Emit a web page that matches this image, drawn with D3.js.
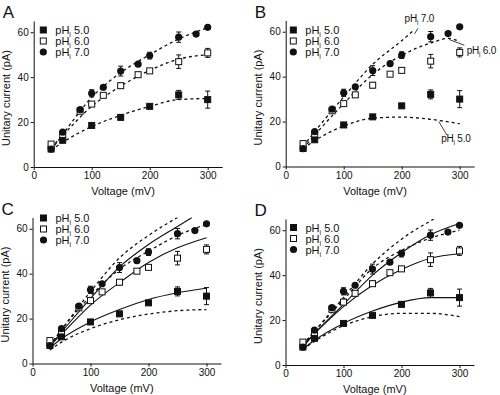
<!DOCTYPE html>
<html>
<head>
<meta charset="utf-8">
<script src="https://cdn.jsdelivr.net/npm/d3@7"></script>
<style>
  body { margin: 0; background: #fff; }
  svg text { font-family: "Liberation Sans", Arial, sans-serif; fill: #111; }
</style>
</head>
<body>
<div id="chart"></div>
<script>
// Measured points (same data in every panel)
const volt5 = [30, 50, 100, 150, 200, 250, 300];
const ph5 = [8, 11.9, 18.5, 22.1, 27, 32.1, 30];
const ph5Err = [0, 0, 0, 0, 0, 2, 3.8];

const volt6 = [30, 50, 80, 100, 120, 150, 180, 200, 250, 300];
const ph6 = [10.2, 14.5, 24.8, 28, 31.9, 36.2, 41.1, 42.8, 46.9, 50.8];
const ph6Err = [0, 0, 0, 0, 0, 1.2, 0, 0, 3, 2];

const volt7 = [30, 50, 80, 100, 120, 150, 180, 200, 250, 280, 300];
const ph7 = [8, 15.5, 25.5, 32.8, 35.5, 42.7, 45.8, 49.6, 57.8, 59.2, 62.2];
const ph7Err = [0, 0, 0, 1.6, 0, 2.2, 0, 1.5, 2.3, 0, 0];

// fitted curves
const fitV = [30, 50, 100, 150, 200, 250, 300];
const aFit5 = [7.5, 11, 18, 23, 27, 30, 30.5];
const aFit6 = [8.5, 14, 27, 36, 43, 48, 50];
const aFit7 = [7.5, 14.5, 31, 42, 50, 57, 62];

const bFit5V = [30, 50, 100, 150, 200, 250, 300];
const bFit5 = [8, 11.5, 18, 21.5, 22, 21, 19];
const bFit6V = [30, 50, 100, 150, 200, 250, 280, 300];
const bFit6 = [8, 14, 28, 41, 49.5, 55, 57, 55.6];
const bFit7V = [30, 50, 100, 150, 200, 222];
const bFit7 = [9, 15.5, 31, 45.5, 56, 61];

const cSolidTopV = [30, 50, 100, 150, 200, 250, 275];
const cSolidTop = [8, 14, 29, 43, 53, 61, 65];
const cDashTopV = [30, 50, 100, 150, 200, 250];
const cDashTop = [8, 15, 32, 47, 57, 65];
const cDash7 = [8, 15, 30, 42, 50, 57, 62];
const cSolid6 = [8, 13, 26, 36, 45, 51.5, 56];
const cSolid5 = [7, 11, 18.5, 24, 28.5, 31.5, 33.5];
const cDash5 = [6, 9.5, 15.5, 19.5, 22, 23.5, 24];

const dDashTopV = [30, 50, 100, 150, 200, 256];
const dDashTop = [9, 15, 30, 45, 56, 65];
const dSolid7 = [8, 14, 27, 40, 50, 58, 63];
const dDash7 = [9, 15, 29, 43, 51, 56.5, 60];
const dSolid6 = [9, 14, 26, 35.5, 42.5, 47.5, 49.5];
const dSolid5 = [7, 11, 18.5, 24, 28, 30, 30];
const dDash5 = [7, 10.5, 17.5, 21.5, 23, 23, 21.5];

const xTicks = [0, 100, 200, 300];
const yTicks = [0, 20, 40, 60];
const legendLabels = ["5.0", "6.0", "7.0"];

const W = 500, H = 395;
const pw = 188.5, ph = 146;

const svg = d3.select("#chart").append("svg")
    .attr("width", W).attr("height", H);

const x = d3.scaleLinear().domain([0, 325]).range([0, pw]);
const y = d3.scaleLinear().domain([0, 65]).range([ph, 0]);

function toPts(vs, is) { return vs.map((v, k) => [v, is[k]]); }

const line = d3.line().x(d => x(d[0])).y(d => y(d[1])).curve(d3.curveMonotoneX);

function drawPanel(cfg) {
    const g = svg.append("g").attr("transform", `translate(${cfg.x0},${cfg.y0 - ph})`);

    svg.append("text")
        .attr("x", cfg.x0 - 31).attr("y", cfg.y0 - ph - 3)
        .style("font-size", "17px")
        .text(cfg.letter);

    g.append("clipPath").attr("id", "clip" + cfg.letter)
      .append("rect").attr("x", 0).attr("y", 0).attr("width", pw).attr("height", ph);

    // axes
    const ax = g.append("g").attr("transform", `translate(0,${ph})`)
        .call(d3.axisBottom(x).tickValues(xTicks).tickSize(3).tickSizeOuter(0).tickPadding(2));
    const ay = g.append("g")
        .call(d3.axisLeft(y).tickValues(yTicks).tickSize(3).tickSizeOuter(0).tickPadding(2));
    [ax, ay].forEach(a => {
        a.selectAll("text").style("font-size", "10px").style("font-family", "Liberation Sans, Arial, sans-serif").attr("fill", "#111");
        a.selectAll("path, line").attr("stroke", "#111").attr("stroke-width", 1);
    });

    g.append("text")
        .attr("x", x(154)).attr("y", ph + 28)
        .attr("text-anchor", "middle")
        .style("font-size", "11px")
        .text("Voltage (mV)");
    g.append("text")
        .attr("transform", `translate(-24,${ph / 2 + 4}) rotate(-90)`)
        .attr("text-anchor", "middle")
        .style("font-size", "11px")
        .text("Unitary current (pA)");

    // fitted curves
    const curves = g.append("g").attr("clip-path", `url(#clip${cfg.letter})`);
    cfg.curves.forEach(c => {
        curves.append("path")
            .attr("d", line(c.pts))
            .attr("fill", "none")
            .attr("stroke", "#111")
            .attr("stroke-width", c.dash ? 1.3 : 1.1)
            .attr("stroke-dasharray", c.dash ? "3,3" : null);
    });

    // error bars then markers
    const series = [
        {v: volt5, i: ph5, e: ph5Err, shape: "sq", fill: "#111"},
        {v: volt6, i: ph6, e: ph6Err, shape: "sq", fill: "#fff"},
        {v: volt7, i: ph7, e: ph7Err, shape: "ci", fill: "#111"}
    ];
    series.forEach(s => {
        s.v.forEach((v, k) => {
            if (s.e[k] > 0) {
                const cx = x(v), top = y(s.i[k] + s.e[k]), bot = y(s.i[k] - s.e[k]);
                g.append("line").attr("x1", cx).attr("x2", cx).attr("y1", top).attr("y2", bot)
                    .attr("stroke", "#111").attr("stroke-width", 1);
                [top, bot].forEach(yy => g.append("line")
                    .attr("x1", cx - 2.5).attr("x2", cx + 2.5).attr("y1", yy).attr("y2", yy)
                    .attr("stroke", "#111").attr("stroke-width", 1));
            }
        });
    });
    series.forEach(s => drawMarks(g, s.v.map((v, k) => [x(v), y(s.i[k])]), s.shape, s.fill));

    // legend
    const lg = g.append("g").attr("transform", `translate(${cfg.legX},${cfg.legY})`);
    series.forEach((s, k) => {
        drawMarks(lg, [[0, k * 11]], s.shape, s.fill);
        const t = lg.append("text").attr("x", 12).attr("y", k * 11 + 4).style("font-size", "11px");
        t.append("tspan").text("pH");
        t.append("tspan").attr("dy", 3).style("font-size", "7px").text("i");
        t.append("tspan").attr("dy", -3).text(" " + legendLabels[k]);
    });

    // curve labels (panel B)
    (cfg.labels || []).forEach(l => {
        g.append("line")
            .attr("x1", x(l.from[0])).attr("y1", y(l.from[1]))
            .attr("x2", x(l.to[0])).attr("y2", y(l.to[1]))
            .attr("stroke", "#111").attr("stroke-width", 0.8);
        const t = g.append("text").attr("x", x(l.at[0])).attr("y", y(l.at[1]))
            .style("font-size", "10px").style("letter-spacing", "-0.2px");
        t.append("tspan").text("pH");
        t.append("tspan").attr("dy", 3).style("font-size", "6.5px").text("i");
        t.append("tspan").attr("dy", -3).text(" " + l.text);
    });
}

function drawMarks(g, pts, shape, fill) {
    pts.forEach(p => {
        if (shape === "sq") {
            g.append("rect")
                .attr("x", p[0] - 3).attr("y", p[1] - 3)
                .attr("width", 6).attr("height", 6)
                .attr("fill", fill).attr("stroke", "#111").attr("stroke-width", 1);
        } else {
            g.append("circle").attr("cx", p[0]).attr("cy", p[1]).attr("r", 3.6).attr("fill", fill);
        }
    });
}

drawPanel({
    letter: "A", x0: 33.7, y0: 167, legX: 9.6, legY: 9,
    curves: [
        {pts: toPts(fitV, aFit5), dash: true},
        {pts: toPts(fitV, aFit6), dash: true},
        {pts: toPts(fitV, aFit7), dash: true}
    ]
});

drawPanel({
    letter: "B", x0: 285.7, y0: 166.5, legX: 7.6, legY: 9.5,
    curves: [
        {pts: toPts(bFit5V, bFit5), dash: true},
        {pts: toPts(bFit6V, bFit6), dash: true},
        {pts: toPts(bFit7V, bFit7), dash: true}
    ],
    labels: [
        {text: "7.0", at: [205, 64.5], from: [228, 61.5], to: [222, 59]},
        {text: "6.0", at: [312, 50], from: [282, 56.5], to: [308, 54]},
        {text: "5.0", at: [268, 11], from: [264, 20], to: [278, 14]}
    ]
});

drawPanel({
    letter: "C", x0: 32.5, y0: 363.5, legX: 11, legY: 0.5,
    curves: [
        {pts: toPts(cSolidTopV, cSolidTop), dash: false},
        {pts: toPts(cDashTopV, cDashTop), dash: true},
        {pts: toPts(fitV, cDash7), dash: true},
        {pts: toPts(fitV, cSolid6), dash: false},
        {pts: toPts(fitV, cSolid5), dash: false},
        {pts: toPts(fitV, cDash5), dash: true}
    ]
});

drawPanel({
    letter: "D", x0: 285.5, y0: 365, legX: 8, legY: 8.5,
    curves: [
        {pts: toPts(dDashTopV, dDashTop), dash: true},
        {pts: toPts(fitV, dSolid7), dash: false},
        {pts: toPts(fitV, dDash7), dash: true},
        {pts: toPts(fitV, dSolid6), dash: false},
        {pts: toPts(fitV, dSolid5), dash: false},
        {pts: toPts(fitV, dDash5), dash: true}
    ]
});
</script>
</body>
</html>
